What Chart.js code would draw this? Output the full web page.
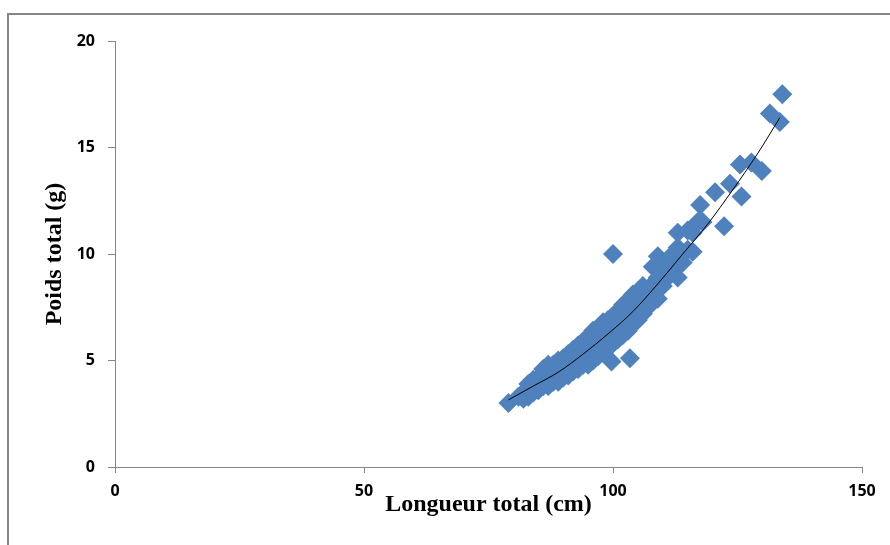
<!DOCTYPE html>
<html>
<head>
<meta charset="utf-8">
<script src="https://cdn.jsdelivr.net/npm/chart.js@4/dist/chart.umd.min.js"></script>
<style>
  html, body { margin: 0; padding: 0; background: #fff; }
  .chart { position: relative; width: 890px; height: 545px; }
</style>
</head>
<body>
<div class="chart"><canvas id="chart__poids"></canvas></div>
<script>
const lengthCm = [
  79, 81, 82, 82, 83, 83, 84, 84, 85, 85,
  86, 86, 86, 87, 87, 87, 88, 88, 88, 89, 89, 89,
  90, 90, 90, 91, 91, 91, 92, 92, 92, 93, 93, 93,
  94, 94, 94, 95, 95, 95, 96, 96, 96, 97, 97, 97,
  98, 98, 98, 99, 99, 99, 100, 100, 100, 101, 101, 101,
  102, 102, 102, 103, 103, 103, 104, 104, 104, 105, 105, 105,
  106, 106, 106, 107, 107, 108, 108, 108, 109, 109, 109,
  110, 110, 111, 111, 112, 112, 113, 113, 113, 114,
  115, 115, 116, 116, 117, 117.5, 118,
  120.5, 122.3, 123.5, 125.5, 125.8, 127.8, 129.9, 131.5, 133.5, 134,
  100, 99.7, 103.4
];
const weightG = [
  3.0, 3.3, 3.5, 3.2, 3.3, 3.9, 3.5, 4.1, 3.6, 4.2,
  3.8, 4.2, 4.6, 3.8, 4.4, 4.8, 4.0, 4.5, 4.8, 4.0, 4.6, 5.0,
  4.2, 4.7, 5.1, 4.3, 4.9, 5.3, 4.5, 5.0, 5.5, 4.6, 5.3, 5.7,
  4.8, 5.4, 5.9, 4.8, 5.6, 6.1, 5.0, 5.7, 6.4, 5.2, 6.0, 6.5,
  5.4, 6.2, 6.8, 5.6, 6.3, 6.9, 5.8, 6.6, 7.1, 6.0, 6.8, 7.3,
  6.2, 7.0, 7.6, 6.4, 7.1, 7.8, 6.7, 7.5, 8.1, 6.9, 7.6, 8.2,
  7.2, 8.0, 8.5, 7.5, 8.3, 7.8, 8.6, 9.4, 7.9, 8.9, 9.9,
  8.5, 9.3, 8.9, 9.6, 9.2, 10.0, 8.9, 10.3, 11.0, 9.6,
  10.2, 11.1, 10.1, 11.0, 11.5, 12.3, 11.5,
  12.9, 11.3, 13.3, 14.2, 12.7, 14.3, 13.9, 16.6, 16.2, 17.5,
  10.0, 4.95, 5.1
];

// trend curve, points
const trendX = [79, 84, 89, 94, 99, 104, 109, 114, 119, 124, 129, 133.5];
const trendY = [3.15, 3.8, 4.45, 5.3, 6.25, 7.3, 8.6, 10.0, 11.4, 13.0, 14.7, 16.4];

const xTitle = "Longueur total (cm)";
const yTitle = "Poids total (g)";

const ctx = document.getElementById("chart__poids");

// grey frame around the whole chart (only left and top edges are visible)
const frame = {
  id: "frame",
  beforeDraw(chart) {
    const c = chart.ctx;
    c.save();
    c.strokeStyle = "#868686";
    c.lineWidth = 2;
    c.beginPath();
    c.moveTo(8, 545);
    c.lineTo(8, 14);
    c.lineTo(890, 14);
    c.stroke();
    c.restore();
  },
};

const tickFont = { family: "Open Sans", size: 16, weight: "bold" };
const titleFont = { family: "Liberation Serif", size: 24, weight: "bold" };

new Chart(ctx, {
  type: "scatter",
  data: {
    datasets: [
      {
        label: "trend",
        data: trendX.map((x, i) => ({ x: x, y: trendY[i] })),
        showLine: true,
        borderColor: "#000",
        borderWidth: 1,
        pointRadius: 0,
        cubicInterpolationMode: "monotone",
        order: 0,
      },
      {
        label: "Poids",
        data: lengthCm.map((x, i) => ({ x: x, y: weightG[i] })),
        pointStyle: "rectRot",
        pointRadius: 10,
        backgroundColor: "#4F81BD",
        borderColor: "#4F81BD",
        borderWidth: 0,
        order: 1,
      },
    ],
  },
  options: {
    responsive: true,
    maintainAspectRatio: false,
    animation: false,
    layout: { padding: { left: 0, right: 28, top: 41, bottom: 0 } },
    plugins: { legend: { display: false }, tooltip: { enabled: false } },
    scales: {
      x: {
        min: 0,
        max: 150,
        ticks: { stepSize: 50, color: "#000", font: tickFont, padding: 9, maxRotation: 0 },
        grid: { drawOnChartArea: false, drawTicks: true, tickLength: 6, color: "#868686" },
        border: { display: true, color: "#868686", width: 1 },
        title: { display: true, text: xTitle, color: "#000", font: titleFont, padding: { top: 0, bottom: 26 } },
        afterFit(scale) {
          scale.height = 78;
        },
      },
      y: {
        min: 0,
        max: 20,
        ticks: { stepSize: 5, color: "#000", font: tickFont, padding: 13 },
        grid: { drawOnChartArea: false, drawTicks: true, tickLength: 7, color: "#868686" },
        border: { display: true, color: "#868686", width: 1 },
        title: { display: true, text: yTitle, color: "#000", font: titleFont, padding: { top: 40, bottom: 0 } },
        afterFit(scale) {
          scale.width = 115;
        },
      },
    },
  },
  plugins: [frame],
});
</script>
</body>
</html>
